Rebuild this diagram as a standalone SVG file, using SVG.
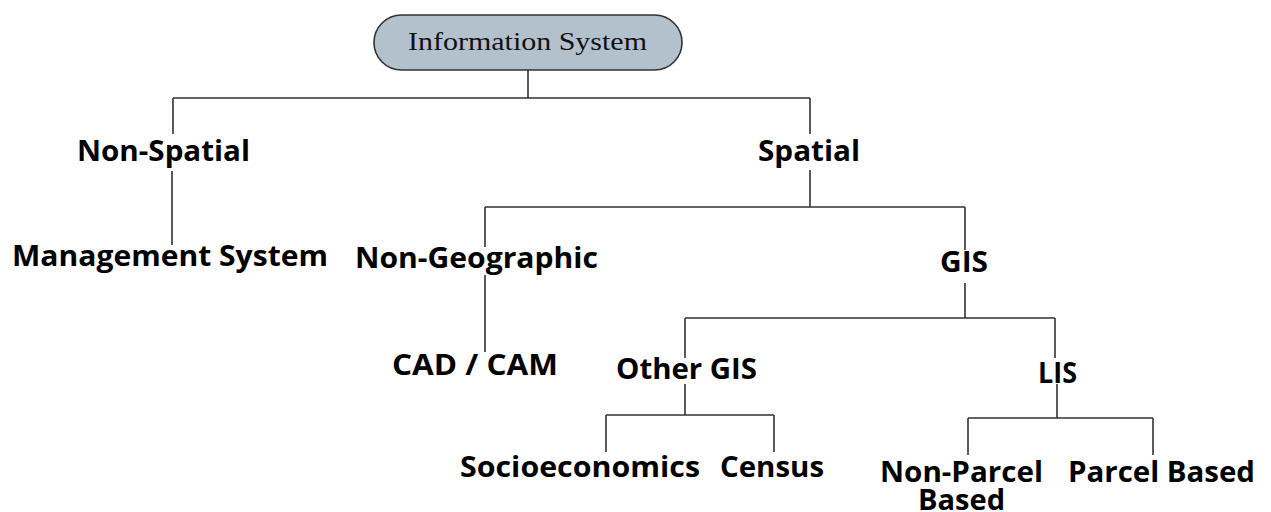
<svg xmlns="http://www.w3.org/2000/svg" width="1271" height="512" viewBox="0 0 1271 512">
  <style>
    .lbl { font-family: "Open Sans", "Liberation Sans", sans-serif; font-weight: 700; font-size: 28px; fill: #000; }
    .root-txt { font-family: "Liberation Serif", "DejaVu Serif", serif; font-size: 26px; fill: #111; }
    .wire { fill: none; stroke: #333; stroke-width: 1.6; }
  </style>
  <rect width="1271" height="512" fill="#fff"/>

  <!-- tree connectors -->
  <g id="connectors" class="wire">
    <path d="M528 70 V98 M173 98 H810"/>
    <path d="M173 98 V134 M172 171 V245"/>
    <path d="M810 98 V134 M810 170 V207 M485 207 H965"/>
    <path d="M485 207 V247 M485 275 V352"/>
    <path d="M965 207 V250 M965 283 V318 M685 318 H1055"/>
    <path d="M685 318 V358 M685 384 V415 M606 415 H774 M606 415 V452 M774 415 V452"/>
    <path d="M1055 318 V358 M1057 384 V418 M968 418 H1153 M968 418 V455 M1153 418 V455"/>
  </g>

  <g id="node-information-system">
    <rect x="374" y="15" width="308" height="55" rx="27.5" ry="27.5" fill="#b2c1cb" stroke="#333" stroke-width="1.6"/>
    <text class="root-txt" x="408" y="50" textLength="239" lengthAdjust="spacingAndGlyphs">Information System</text>
  </g>
  <g id="node-non-spatial">
    <text class="lbl" x="77" y="161" textLength="173" lengthAdjust="spacingAndGlyphs">Non-Spatial</text>
  </g>
  <g id="node-management-system">
    <text class="lbl" x="12" y="266" textLength="316" lengthAdjust="spacingAndGlyphs">Management System</text>
  </g>
  <g id="node-spatial">
    <text class="lbl" x="758" y="161" textLength="102" lengthAdjust="spacingAndGlyphs">Spatial</text>
  </g>
  <g id="node-non-geographic">
    <text class="lbl" x="355" y="268" textLength="243" lengthAdjust="spacingAndGlyphs">Non-Geographic</text>
  </g>
  <g id="node-cad-cam">
    <text class="lbl" x="392" y="375" textLength="166" lengthAdjust="spacingAndGlyphs">CAD / CAM</text>
  </g>
  <g id="node-gis">
    <text class="lbl" x="940" y="272" textLength="48" lengthAdjust="spacingAndGlyphs">GIS</text>
  </g>
  <g id="node-other-gis">
    <text class="lbl" x="616" y="379" textLength="141" lengthAdjust="spacingAndGlyphs">Other GIS</text>
  </g>
  <g id="node-lis">
    <text class="lbl" x="1038" y="383" textLength="39" lengthAdjust="spacingAndGlyphs">LIS</text>
  </g>
  <g id="node-socioeconomics">
    <text class="lbl" x="460" y="477" textLength="240" lengthAdjust="spacingAndGlyphs">Socioeconomics</text>
  </g>
  <g id="node-census">
    <text class="lbl" x="720" y="477" textLength="104" lengthAdjust="spacingAndGlyphs">Census</text>
  </g>
  <g id="node-non-parcel-based">
    <text class="lbl" x="880" y="482" textLength="163" lengthAdjust="spacingAndGlyphs">Non-Parcel</text>
    <text class="lbl" x="918" y="510" textLength="87" lengthAdjust="spacingAndGlyphs">Based</text>
  </g>
  <g id="node-parcel-based">
    <text class="lbl" x="1068" y="482" textLength="187" lengthAdjust="spacingAndGlyphs">Parcel Based</text>
  </g>
</svg>
